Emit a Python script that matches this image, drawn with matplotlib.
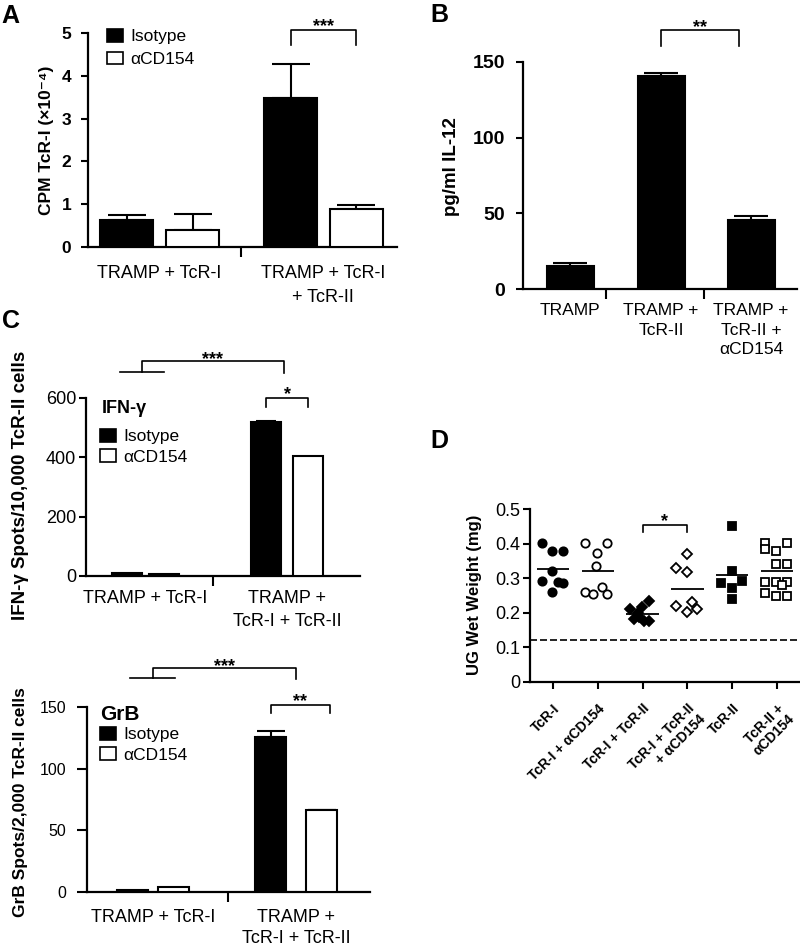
"""
plot.py - four-panel figure: TcR-I proliferation, IL-12, ELISpot and UG weights.
"""

import numpy as np
import matplotlib
matplotlib.use("Agg")
import matplotlib.pyplot as plt
from matplotlib.patches import Patch

plt.rcParams["font.family"] = ["Liberation Sans", "DejaVu Sans"]

W, H = 800, 948

# ---------------- data ----------------
a_groups = ["TRAMP + TcR-I", "TRAMP + TcR-I\n+ TcR-II"]
a_isotype = [0.63, 3.48]
a_isotype_err = [0.12, 0.80]
a_cd154 = [0.40, 0.89]
a_cd154_err = [0.37, 0.10]

b_groups = ["TRAMP", "TRAMP +\nTcR-II", "TRAMP +\nTcR-II +\nαCD154"]
b_il12 = [15.0, 141.0, 45.8]
b_il12_err = [2.0, 1.5, 2.2]

c_groups = ["TRAMP + TcR-I", "TRAMP +\nTcR-I + TcR-II"]
c_ifn_isotype = [11, 518]
c_ifn_isotype_err = [0, 5]
c_ifn_cd154 = [7, 406]
c_ifn_cd154_err = [0, 0]
c_grb_isotype = [1.9, 125.7]
c_grb_isotype_err = [0, 5.0]
c_grb_cd154 = [4.0, 66.2]
c_grb_cd154_err = [0, 0.6]

d_groups = ["TcR-I", "TcR-I + αCD154", "TcR-I + TcR-II",
            "TcR-I + TcR-II\n+ αCD154", "TcR-II", "TcR-II +\nαCD154"]
d_tcr1 = [0.403, 0.380, 0.380, 0.322, 0.293, 0.261, 0.290, 0.287]
d_tcr1_cd154 = [0.403, 0.403, 0.374, 0.336, 0.261, 0.255, 0.275, 0.255]
d_tcr1_tcr2 = [0.211, 0.216, 0.233, 0.199, 0.182, 0.175, 0.175, 0.189]
d_tcr1_tcr2_cd154 = [0.371, 0.330, 0.319, 0.220, 0.232, 0.203, 0.212]
d_tcr2 = [0.452, 0.320, 0.286, 0.291, 0.272, 0.241]
d_tcr2_cd154 = [0.402, 0.402, 0.379, 0.383, 0.342, 0.342, 0.289, 0.289,
                0.289, 0.257, 0.250, 0.250, 0.279]
d_baseline = 0.122

# horizontal spread of the dots (pixels from the group centre)
d_jitter_px = [
    [-11, -1, 10, -1, -11, -1, 5, 10],
    [-13, 9, -1, -2, -13, -5, 4, 9],
    [-13, -1, 6, -5, -9, 1, 6, -4],
    [0, -11, 0, -11, 5, 0, 10],
    [0, 0, -11, 10, 0, 0],
    [-12, 10, -1, -12, -1, 10, -12, -1, 10, -12, -1, 10, 5],
]

fig = plt.figure(figsize=(W / 100, H / 100), dpi=100)


def px_axes(left, top, right, bottom):
    return fig.add_axes([left / W, 1 - bottom / H, (right - left) / W, (bottom - top) / H])


def fig_text(x, y, s, **kw):
    return fig.text(x / W, 1 - y / H, s, **kw)


def base_style(ax):
    for side in ("top", "right"):
        ax.spines[side].set_visible(False)
    for side in ("left", "bottom"):
        ax.spines[side].set_linewidth(1.6)
    ax.tick_params(axis="y", direction="out", length=5, width=1.5)


def draw_bars(ax, xs, vals, errs, color, width, capsize):
    ax.bar(xs, vals, width, color=color, edgecolor="black", linewidth=1.5, zorder=3)
    xs, vals, errs = np.array(xs, float), np.array(vals, float), np.array(errs, float)
    keep = errs > 0
    if keep.any():
        ax.errorbar(xs[keep], vals[keep], yerr=[np.zeros(keep.sum()), errs[keep]],
                    fmt="none", ecolor="black", elinewidth=1.5, capsize=capsize,
                    capthick=1.5, zorder=2)


def group_ticks(ax, mids, centers, labels, fs, pad, ls):
    ax.set_xticks(mids, [""] * len(mids))
    ax.set_xticks(centers, labels, minor=True, fontsize=fs, linespacing=ls)
    ax.tick_params(axis="x", which="major", direction="out", length=7, width=1.5)
    ax.tick_params(axis="x", which="minor", length=0, pad=pad)


STAR_FS = 13


def bracket(ax, x1, x2, y, drop, stars):
    ax.plot([x1, x1, x2, x2], [y - drop, y, y, y - drop], color="black", lw=1.2,
            clip_on=False)
    ax.annotate(stars, ((x1 + x2) / 2, y), xytext=(0, -1), textcoords="offset points",
                ha="center", va="baseline", fontsize=STAR_FS, fontweight="bold",
                annotation_clip=False)


def group_bracket(ax, x1, x2, y, drop1, drop2, span, stars):
    ax.plot([x1, x1, x2, x2], [y - drop1, y, y, y - drop2], color="black", lw=1.2,
            clip_on=False)
    ax.plot([x1 - span / 2, x1 + span / 2], [y - drop1] * 2, color="black", lw=1.2,
            clip_on=False)
    ax.annotate(stars, ((x1 + x2) / 2, y), xytext=(0, -2), textcoords="offset points",
                ha="center", va="baseline", fontsize=STAR_FS, fontweight="bold",
                annotation_clip=False)


def bar_legend(ax, x, y, fs, ls):
    handles = [Patch(facecolor="black", edgecolor="black", lw=1.2, label="Isotype"),
               Patch(facecolor="white", edgecolor="black", lw=1.2, label="αCD154")]
    ax.legend(handles=handles, loc="upper left", bbox_to_anchor=(x / W, 1 - y / H),
              bbox_transform=fig.transFigure, frameon=False, fontsize=fs,
              handlelength=0.95, handleheight=0.75, handletextpad=0.4,
              labelspacing=ls, borderpad=0, borderaxespad=0)


# ---------------- panel A ----------------
axA = px_axes(88, 33, 397, 247)
base_style(axA)
a_x_iso = [126.5, 290.5]
a_x_cd = [192.5, 356.0]
draw_bars(axA, a_x_iso, a_isotype, a_isotype_err, "black", 53, 14)
draw_bars(axA, a_x_cd, a_cd154, a_cd154_err, "white", 53, 14)
axA.set_xlim(88, 397)
axA.set_ylim(0, 5)
axA.set_yticks(range(6), [str(v) for v in range(6)], fontsize=12.5, fontweight="bold")
axA.tick_params(axis="y", pad=7)
group_ticks(axA, [241], [159.5, 323.3], a_groups, 13, 13, 1.5)
bracket(axA, a_x_iso[1], a_x_cd[1], 5.07, 0.35, "***")
bar_legend(axA, 107, 29, 12.5, 0.42)
fig_text(47, 140, "CPM TcR-I (×10⁻⁴)", rotation=90, ha="center", va="center",
         fontsize=12.5, fontweight="bold")
fig_text(1, 23, "A", fontsize=18, fontweight="bold", va="baseline")

# ---------------- panel B ----------------
axB = px_axes(523, 62, 797, 289)
base_style(axB)
b_x = [570, 661, 751]
draw_bars(axB, b_x, b_il12, b_il12_err, "black", 47, 12)
axB.set_xlim(523, 797)
axB.set_ylim(0, 150)
axB.set_yticks([0, 50, 100, 150], ["0", "50", "100", "150"], fontsize=14,
               fontweight="bold")
axB.tick_params(axis="y", pad=8)
group_ticks(axB, [606, 704], b_x, b_groups, 12.5, 10, 1.4)
bracket(axB, b_x[1], b_x[2] - 12, 171, 10.5, "**")
fig_text(452, 167, "pg/ml IL-12", rotation=90, ha="center", va="center",
         fontsize=13.5, fontweight="bold")
fig_text(430, 22, "B", fontsize=18, fontweight="bold", va="baseline")

# ---------------- panel C (IFN-γ) ----------------
axC1 = px_axes(86, 398, 360, 576)
base_style(axC1)
c1_x_iso = [127, 266]
c1_x_cd = [164, 308]
draw_bars(axC1, c1_x_iso, c_ifn_isotype, c_ifn_isotype_err, "black", 30, 7)
draw_bars(axC1, c1_x_cd, c_ifn_cd154, c_ifn_cd154_err, "white", 30, 7)
axC1.set_xlim(86, 360)
axC1.set_ylim(0, 600)
axC1.set_yticks([0, 200, 400, 600], ["0", "200", "400", "600"], fontsize=13)
axC1.tick_params(axis="y", pad=2)
c1_centers = [(a + b) / 2 for a, b in zip(c1_x_iso, c1_x_cd)]
group_ticks(axC1, [213], c1_centers, c_groups, 13, 10, 1.5)
bracket(axC1, c1_x_iso[1], c1_x_cd[1], 600, 30, "*")
group_bracket(axC1, c1_centers[0] - 4, c1_centers[1] - 3, 725, 38, 41, 44, "***")
bar_legend(axC1, 100, 429, 12.5, 0.28)
fig_text(102, 413, "IFN-γ", fontsize=13, fontweight="bold", va="baseline")
fig_text(21, 485, "IFN-γ Spots/10,000 TcR-II cells", rotation=90, ha="center",
         va="center", fontsize=13.5, fontweight="bold")
fig_text(2, 328, "C", fontsize=18, fontweight="bold", va="baseline")

# ---------------- panel C (GrB) ----------------
axC2 = px_axes(87, 707, 370, 892)
base_style(axC2)
c2_x_iso = [132, 270.5]
c2_x_cd = [173.5, 321.5]
draw_bars(axC2, c2_x_iso, c_grb_isotype, c_grb_isotype_err, "black", 31, 10)
draw_bars(axC2, c2_x_cd, c_grb_cd154, c_grb_cd154_err, "white", 31, 10)
axC2.set_xlim(87, 370)
axC2.set_ylim(0, 150)
axC2.set_yticks([0, 50, 100, 150], ["0", "50", "100", "150"], fontsize=11.5)
axC2.tick_params(axis="y", length=7, pad=8)
c2_centers = [(a + b) / 2 for a, b in zip(c2_x_iso, c2_x_cd)]
group_ticks(axC2, [228], c2_centers, c_groups, 13, 12, 1.3)
bracket(axC2, c2_x_iso[1], c2_x_cd[1] + 8, 151.6, 6.6, "**")
group_bracket(axC2, c2_centers[0], c2_centers[1], 181.6, 8.1, 8.9, 45, "***")
bar_legend(axC2, 100, 727, 12.5, 0.28)
fig_text(100, 720, "GrB", fontsize=15, fontweight="bold", va="baseline")
fig_text(21, 802, "GrB Spots/2,000 TcR-II cells", rotation=90, ha="center",
         va="center", fontsize=12.5, fontweight="bold")

# ---------------- panel D ----------------
axD = px_axes(530, 509, 799, 682)
base_style(axD)
d_series = [d_tcr1, d_tcr1_cd154, d_tcr1_tcr2, d_tcr1_tcr2_cd154, d_tcr2, d_tcr2_cd154]
d_markers = ["o", "o", "D", "D", "s", "s"]
d_filled = [True, False, True, False, True, False]
d_size = [6, 6, 5, 5, 5.5, 5.5]
tick_px = (799 - 530) / 6.0
for i, vals in enumerate(d_series):
    xs = i + np.array(d_jitter_px[i]) / tick_px
    axD.plot(xs, vals, linestyle="none", marker=d_markers[i], markersize=d_size[i],
             markerfacecolor="black" if d_filled[i] else "white",
             markeredgecolor="black", markeredgewidth=1.3, zorder=3)
    axD.hlines(np.mean(vals), i - 0.36, i + 0.36, color="black", lw=1.3, zorder=2)
axD.axhline(d_baseline, color="black", lw=1.2, ls=(0, (4.2, 1.8)), zorder=1)
axD.set_xlim(-0.51, 5.49)
axD.set_ylim(0, 0.5)
d_yt = [0, 0.1, 0.2, 0.3, 0.4, 0.5]
axD.set_yticks(d_yt, [f"{t:g}" for t in d_yt], fontsize=13)
axD.tick_params(axis="y", pad=2)
axD.set_xticks(range(len(d_groups)), d_groups, rotation=45, ha="right",
               rotation_mode="anchor", fontsize=10, fontweight="bold", linespacing=1.1)
axD.tick_params(axis="x", direction="out", length=5, width=1.5, pad=9)
bracket(axD, 2, 3, 0.455, 0.021, "*")
fig_text(474, 595, "UG Wet Weight (mg)", rotation=90, ha="center", va="center",
         fontsize=12, fontweight="bold")
fig_text(430, 448, "D", fontsize=18, fontweight="bold", va="baseline")

fig.savefig("out.png", dpi=100)
print("Saved: out.png")
